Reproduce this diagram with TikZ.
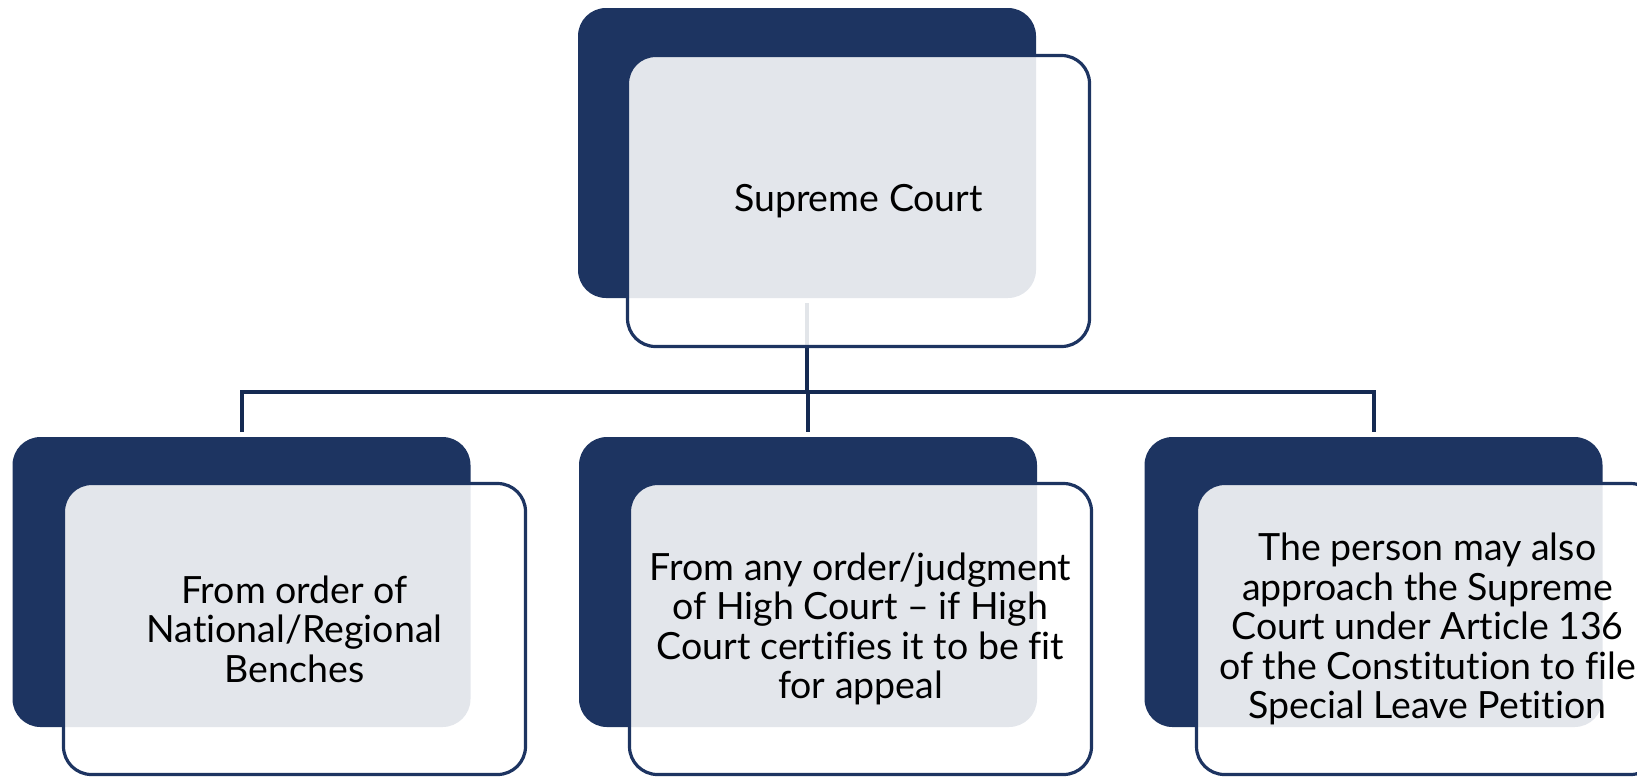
\documentclass[tikz,border=0pt]{standalone}
\usepackage{fontspec}
\setmainfont{Lato}[Ligatures=NoCommon]
\definecolor{navy}{HTML}{1D3461}
\definecolor{linkc}{HTML}{152A52}
\pgfdeclarelayer{bg}
\pgfsetlayers{bg,main}
\begin{document}
\begin{tikzpicture}[x=1pt,y=-1pt,
  back/.style={fill=navy, rounded corners=28pt, minimum width=458pt, minimum height=290pt, inner sep=0pt, outer sep=0pt},
  front/.style={draw=navy, line width=3.2pt, fill=white, fill opacity=0.88, text opacity=1, rounded corners=28pt, minimum width=462pt, minimum height=291pt, inner sep=0pt, align=center, font=\fontsize{37.5}{39.5}\selectfont},
  link/.style={draw=linkc, line width=4pt}]
\useasboundingbox (0,0) rectangle (1637,777);
\clip (0,0) rectangle (1637,777);
% back boxes
\node[back] (topB) at (807,153) {};
\node[back] (leftB) at (241.5,582) {};
\node[back] (midB) at (808,582) {};
\node[back] (rightB) at (1373.5,582) {};
% connectors
\begin{pgfonlayer}{bg}
\coordinate (bus) at (0,392);
\draw[link] ([yshift=-5pt]topB.south) -- (topB.south |- bus);
\draw[link] ([yshift=5pt]leftB.north) -- (leftB.north |- bus) -- (rightB.north |- bus) -- ([yshift=5pt]rightB.north);
\draw[link] (midB.north |- bus) -- ([yshift=5pt]midB.north);
\end{pgfonlayer}
% front boxes
\node[front] (topF) at (858.5,201) {Supreme Court};
\node[front] (leftF) at (294.5,629) {From order of\\National/Regional\\Benches};
\node[front] (midF) at (860.5,629) {From any order/judgment\\of High Court – if High\\Court certifies it to be fit\\for appeal};
\node[front] (rightF) at (1427.5,629) {The person may also\\approach the Supreme\\Court under Article 136\\of the Constitution to file\\Special Leave Petition};
\end{tikzpicture}
\end{document}
